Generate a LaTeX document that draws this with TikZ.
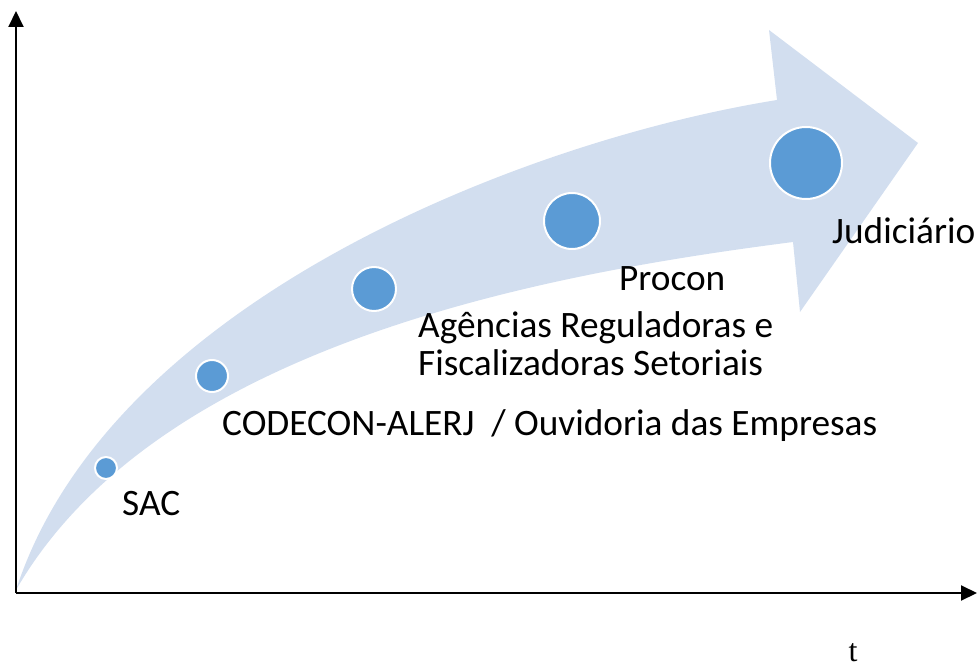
\documentclass[tikz,border=0pt]{standalone}
\usepackage{fontspec}
\setmainfont{Carlito}
\newfontfamily\serifaxis{Liberation Serif}
\usetikzlibrary{arrows.meta}
\definecolor{bandblue}{RGB}{210,222,239}
\definecolor{dotblue}{RGB}{91,155,213}
\tikzset{
	axis/.style={line width=2pt, -{Triangle[width=15pt,length=16pt]}},
	dot/.style={circle, draw=white, line width=2pt, fill=dotblue, inner sep=0pt},
	stage/.style={inner sep=0pt, font=\fontsize{37.3}{38}\selectfont, align=left}
}
\begin{document}
\begin{tikzpicture}[x=1pt, y=-1pt]
		%%%%% START %%%%%
		\useasboundingbox (0, 0) rectangle (977, 666);
		
		\fill[bandblue] (16, 590) .. controls (110, 300) and (527, 140) .. (777, 100)
			-- (769, 30) -- (918, 143) -- (800, 312) -- (793, 242)
			.. controls (560, 272) and (160, 340) .. (16, 590) -- cycle;
		
		\coordinate (origin) at (16, 593);
		\coordinate (ytop) at (16, 11);
		\coordinate (xend) at (977, 593);
		\draw[axis] (origin) -- (ytop);
		\draw[axis] (origin) -- (xend);
		
		\node[dot, minimum size=22pt] (sac) at (106, 468) {};
		\node[dot, minimum size=32pt] (codecon) at (212, 376) {};
		\node[dot, minimum size=44pt] (agencias) at (374, 289) {};
		\node[dot, minimum size=56pt] (procon) at (572, 221) {};
		\node[dot, minimum size=72pt] (judiciario) at (806, 163) {};
		
		\node[stage, anchor=base west] (sac text) at (122, 515) {SAC};
		\node[stage, anchor=base west] (codecon text) at (222, 435) {CODECON-ALERJ\ \ / Ouvidoria das Empresas};
		\node[stage, anchor=base west] (procon text) at (619, 290) {Procon};
		\node[stage, anchor=base west] (agencias text) at (418, 375) {Agências Reguladoras e\\Fiscalizadoras Setoriais};
		\node[stage, anchor=base west] (judiciario text) at (832, 243) {Judiciário};
		
		\node[inner sep=0pt, anchor=base, font=\serifaxis\fontsize{32}{34}\selectfont] (t) at (853, 661) {t};
		%%%%% END %%%%%
\end{tikzpicture}
\end{document}
